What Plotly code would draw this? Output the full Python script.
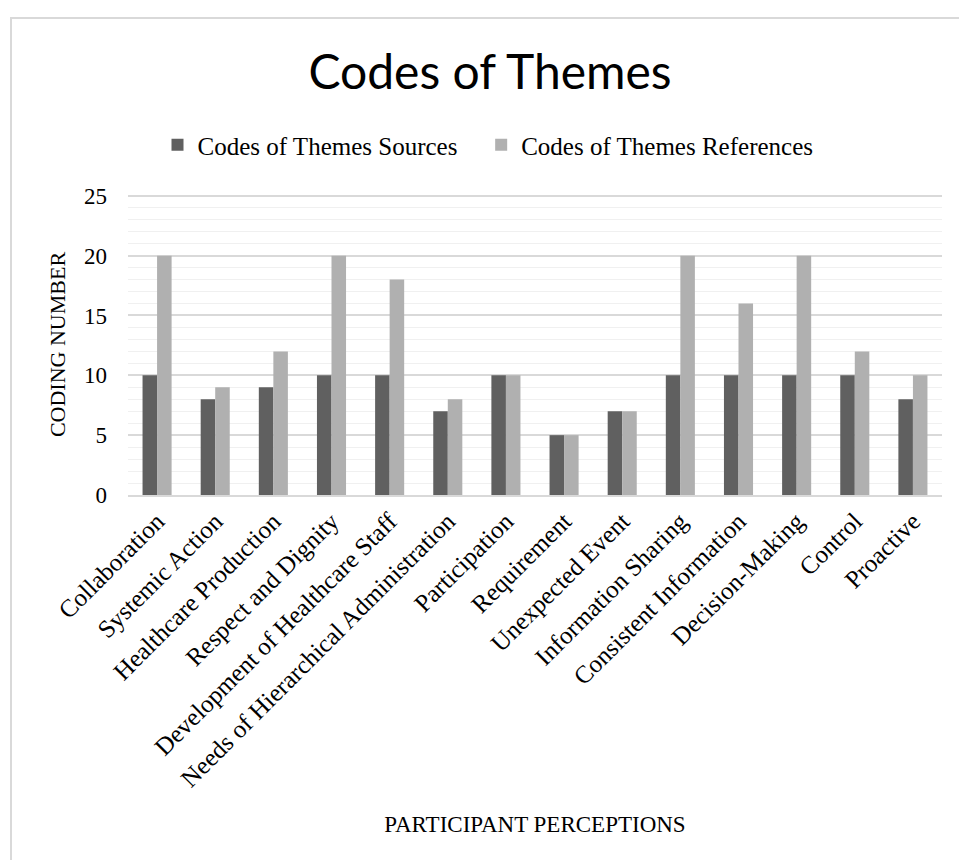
import plotly.graph_objects as go

categories = [
    "Collaboration", "Systemic Action", "Healthcare Production", "Respect and Dignity",
    "Development of Healthcare Staff", "Needs of Hierarchical Administration",
    "Participation", "Requirement", "Unexpected Event", "Information Sharing",
    "Consistent Information", "Decision-Making", "Control", "Proactive",
]
sources = [10, 8, 9, 10, 10, 7, 10, 5, 7, 10, 10, 10, 10, 8]
references = [20, 9, 12, 20, 18, 8, 10, 5, 7, 20, 16, 20, 12, 10]
series_names = ["Codes of Themes Sources", "Codes of Themes References"]

W, H = 959, 860
L, R, T, B = 128, 17, 194, 365
pw, ph = W - L - R, H - T - B

serif = "Liberation Serif"
PAD = "\u00a0\u00a0\u00a0"  # extra spacing between legend entries

fig = go.Figure()
fig.add_trace(go.Bar(x=categories, y=sources, name=series_names[0] + PAD,
                     marker=dict(color="#606060", line=dict(width=0))))
fig.add_trace(go.Bar(x=categories, y=references, name=series_names[1],
                     marker=dict(color="#b0b0b0", line=dict(width=0))))

def px_to_paper_x(px):
    return (px - L) / pw

def px_to_paper_y(py):
    return (H - B - py) / ph

fig.add_shape(type="rect", xref="paper", yref="paper",
              x0=px_to_paper_x(11), x1=px_to_paper_x(975),
              y0=px_to_paper_y(880), y1=px_to_paper_y(18),
              line=dict(color="#d9d9d9", width=2), fillcolor="rgba(0,0,0,0)",
              layer="below")

fig.update_layout(
    width=W, height=H,
    margin=dict(l=L, r=R, t=T, b=B, autoexpand=False),
    paper_bgcolor="white", plot_bgcolor="white",
    barmode="group", bargap=0.5, bargroupgap=0,
    title=dict(text="Codes of Themes", x=490 / W, xref="container", xanchor="center",
               y=1 - 72 / H, yref="container", yanchor="middle",
               font=dict(family="Lato", size=48, color="#000000")),
    legend=dict(orientation="h", x=488 / W, xref="container", xanchor="center",
                y=1 - 145 / H, yref="container", yanchor="middle",
                font=dict(family=serif, size=25, color="#000000"),
                bgcolor="rgba(0,0,0,0)", itemwidth=30),
    xaxis=dict(type="category", tickangle=-45,
               tickfont=dict(family=serif, size=25, color="#000000"),
               showgrid=False, showline=True, linecolor="#d9d9d9", linewidth=1.5,
               ticks="",
               title=dict(text="PARTICIPANT PERCEPTIONS",
                          font=dict(family=serif, size=23, color="#000000"),
                          standoff=25)),
    yaxis=dict(range=[0, 25.15], dtick=5, tick0=0,
               tickfont=dict(family=serif, size=23, color="#000000"),
               showgrid=True, gridcolor="#d9d9d9", gridwidth=1.5,
               zeroline=False, ticks="", ticklen=0, ticklabelstandoff=20,
               minor=dict(dtick=1, showgrid=True, gridcolor="#f0f0f0", gridwidth=1),
               title=dict(text="CODING NUMBER",
                          font=dict(family=serif, size=22, color="#000000"),
                          standoff=12)),
)
fig.write_html("out.html")
